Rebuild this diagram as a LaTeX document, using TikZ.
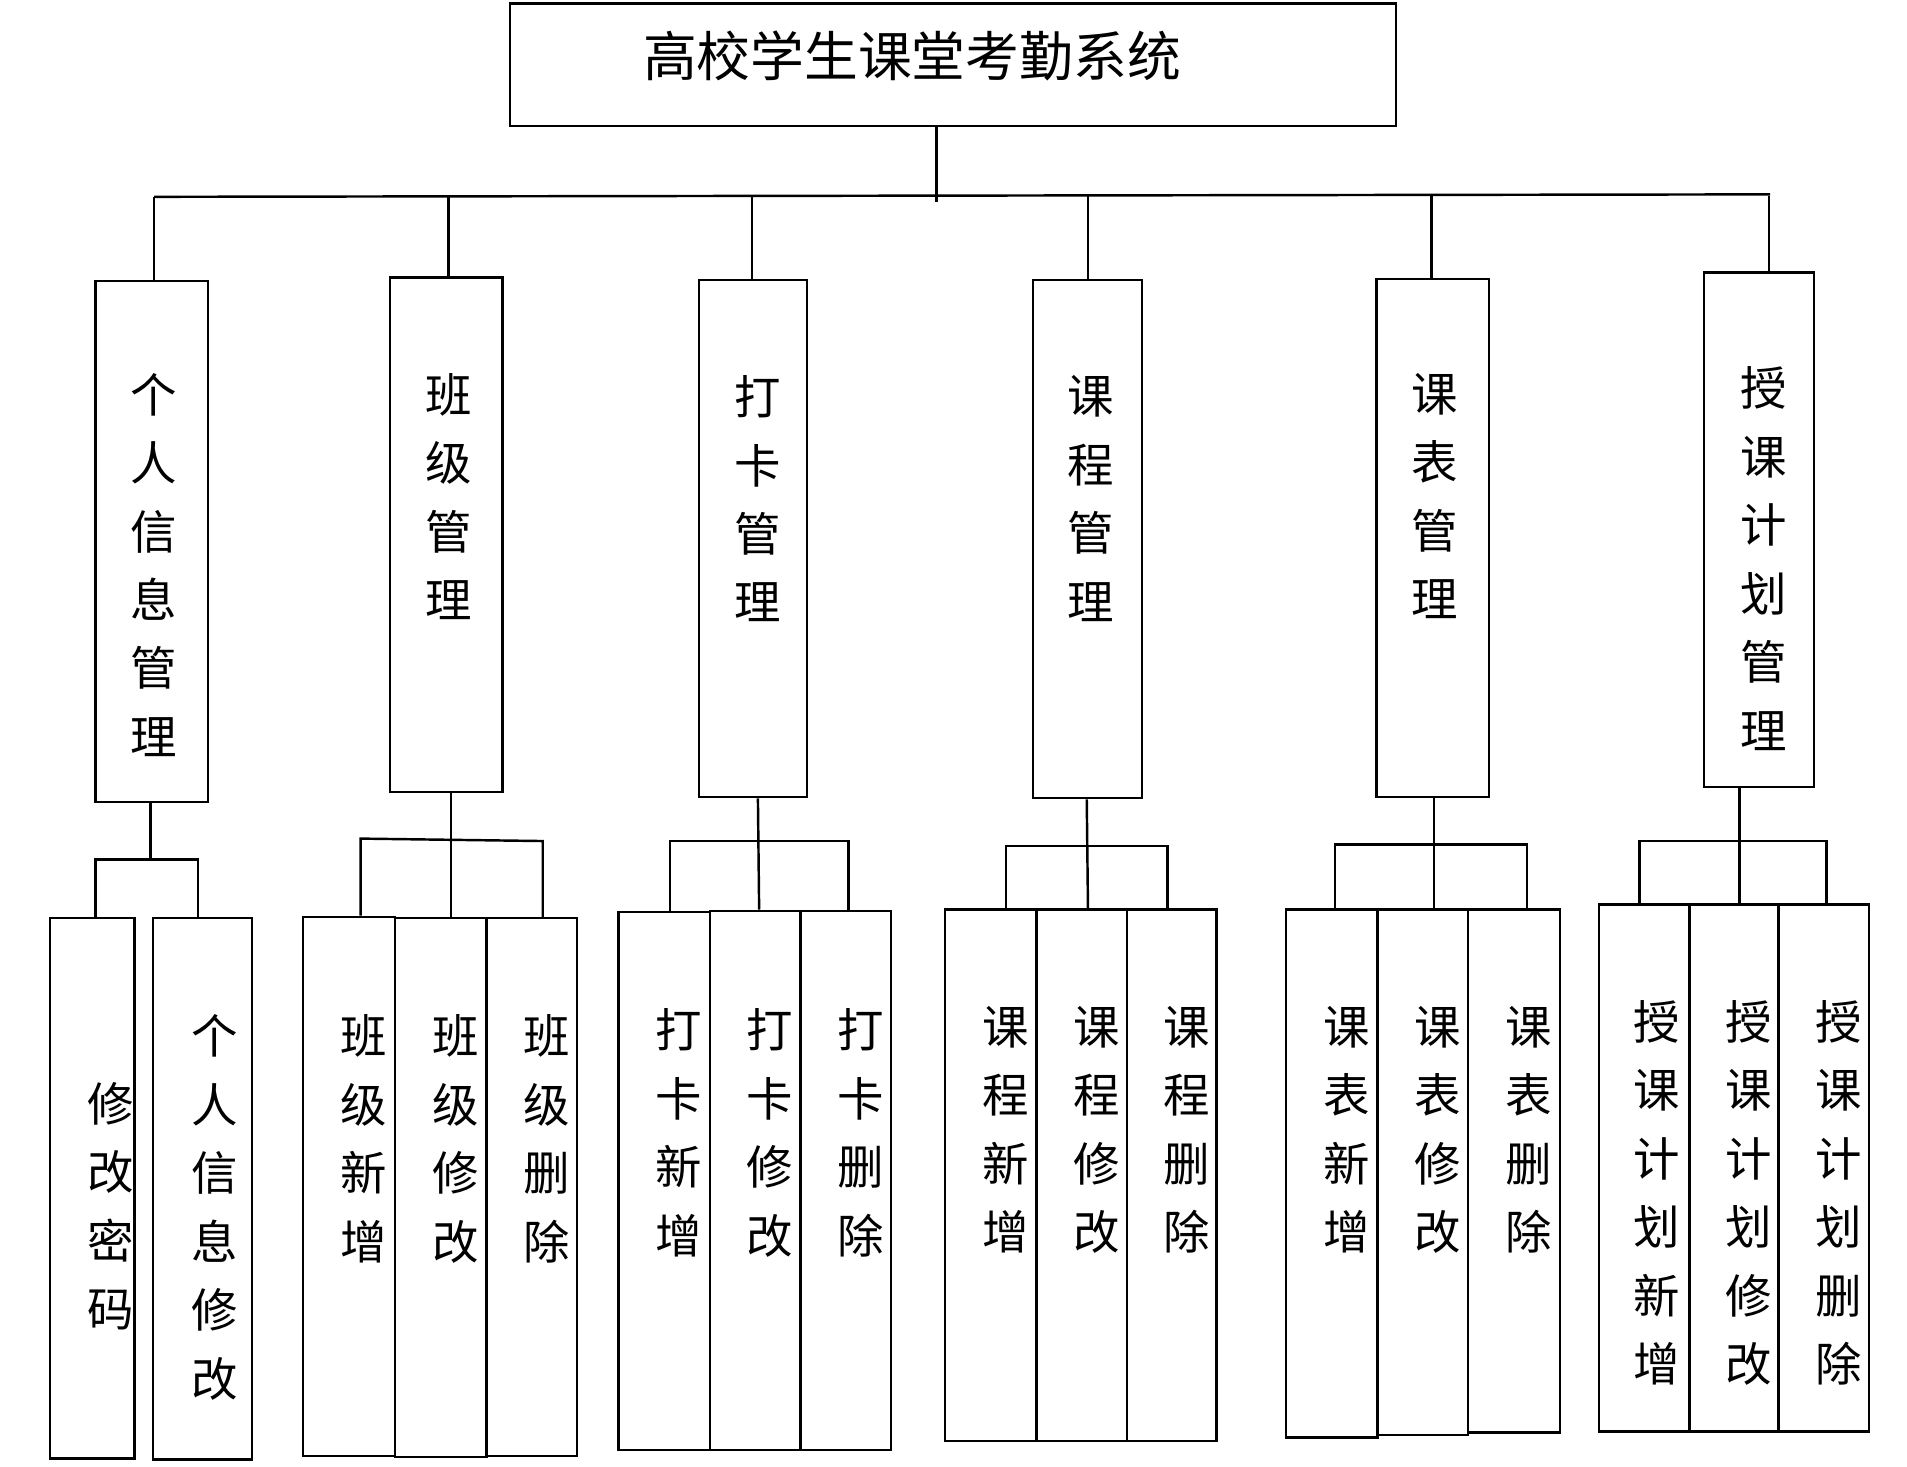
\documentclass[tikz,border=0pt]{standalone}
\usepackage{fontspec}
\newfontfamily\cjk{Noto Sans CJK SC}
\tikzset{
  box/.style={draw,line width=2pt,anchor=north west,inner sep=0pt},
  lbl/.style={anchor=north,align=center,inner sep=0pt,font=\cjk\fontsize{38}{56}\selectfont},
  wire/.style={line width=2pt}
}
\begin{document}
\begin{tikzpicture}[x=1pt,y=1pt,yscale=-1]
\useasboundingbox (0,0) rectangle (1560,1200);
% top
\node[box,minimum width=725pt,minimum height=100pt] (top) at (416,2) {};
\node[anchor=center,inner sep=0pt,font=\cjk\fontsize{44}{50}\selectfont] (toplbl) at (746,46) {高校学生课堂考勤系统};
\draw[wire] (766,102) -- (766,165);
\draw[wire] (126,161) -- (1448,159);
% second level
\foreach \n/\x/\y/\w/\h/\tx/\ty/\t in {
  a/77/229/92/426/126/305/{个\\人\\信\\息\\管\\理},
  b/318/226/92/421/367/305/{班\\级\\管\\理},
  c/571/228/88/423/620/307/{打\\卡\\管\\理},
  d/844/228/89/424/892/307/{课\\程\\管\\理},
  e/1125/227/92/424/1174/305/{课\\表\\管\\理},
  f/1393/222/90/421/1443/300/{授\\课\\计\\划\\管\\理}}{
  \node[box,minimum width=\w pt,minimum height=\h pt] (\n) at (\x,\y) {};
  \node[lbl] (\n t) at (\tx,\ty) {\t};
}
\draw[wire] (126,161) -- (a.north -| 126,0);
\draw[wire] (367,161) -- (b.north -| 367,0);
\draw[wire] (615,161) -- (c.north -| 615,0);
\draw[wire] (890,160) -- (d.north -| 890,0);
\draw[wire] (1171,160) -- (e.north -| 1171,0);
\draw[wire] (1447,160) -- (f.north -| 1447,0);
% third level
\foreach \n/\x/\y/\w/\h/\ty/\dx/\t in {
  a1/40/750/69/442/885/15/{修\\改\\密\\码},
  a2/124/750/81/443/830/10/{个\\人\\信\\息\\修\\改},
  b1/247/749/75/441/830/12/{班\\级\\新\\增},
  b2/322/750/75/441/830/12/{班\\级\\修\\改},
  b3/397/750/74/440/830/12/{班\\级\\删\\除},
  c1/505/745/75/440/825/12/{打\\卡\\新\\增},
  c2/580/744/74/441/825/12/{打\\卡\\修\\改},
  c3/654/744/74/441/825/12/{打\\卡\\删\\除},
  d1/772/743/75/435/823/12/{课\\程\\新\\增},
  d2/847/743/74/435/823/12/{课\\程\\修\\改},
  d3/921/743/73/435/823/12/{课\\程\\删\\除},
  e1/1051/743/75/432/823/12/{课\\表\\新\\增},
  e2/1126/743/74/430/823/12/{课\\表\\修\\改},
  e3/1200/743/75/428/823/12/{课\\表\\删\\除},
  f1/1307/739/74/431/818/10/{授\\课\\计\\划\\新\\增},
  f2/1381/739/73/431/818/12/{授\\课\\计\\划\\修\\改},
  f3/1454/739/74/431/818/12/{授\\课\\计\\划\\删\\除}}{
  \node[box,minimum width=\w pt,minimum height=\h pt] (\n) at (\x,\y) {};
  \node[lbl,xshift=\dx pt] (\n t) at (\n.north |- 0,\ty) {\t};
}
% group connectors
\draw[wire] (a.south -| 123,0) -- (123,703);
\draw[wire] (78,750) -- (78,703) -- (162,703) -- (162,750);
\draw[wire] (b.south -| 369,0) -- (369,750);
\draw[wire] (295,749) -- (295,686) -- (444,688) -- (444,750);
\draw[wire] (c.south -| 620,0) -- (621,744);
\draw[wire] (548,745) -- (548,688) -- (694,688) -- (694,744);
\draw[wire] (d.south -| 889,0) -- (890,743);
\draw[wire] (823,743) -- (823,692) -- (955,692) -- (955,743);
\draw[wire] (e.south -| 1173,0) -- (1173,743);
\draw[wire] (1092,743) -- (1092,691) -- (1249,691) -- (1249,743);
\draw[wire] (f.south -| 1423,0) -- (1423,739);
\draw[wire] (1341,739) -- (1341,688) -- (1494,688) -- (1494,739);
\end{tikzpicture}
\end{document}
